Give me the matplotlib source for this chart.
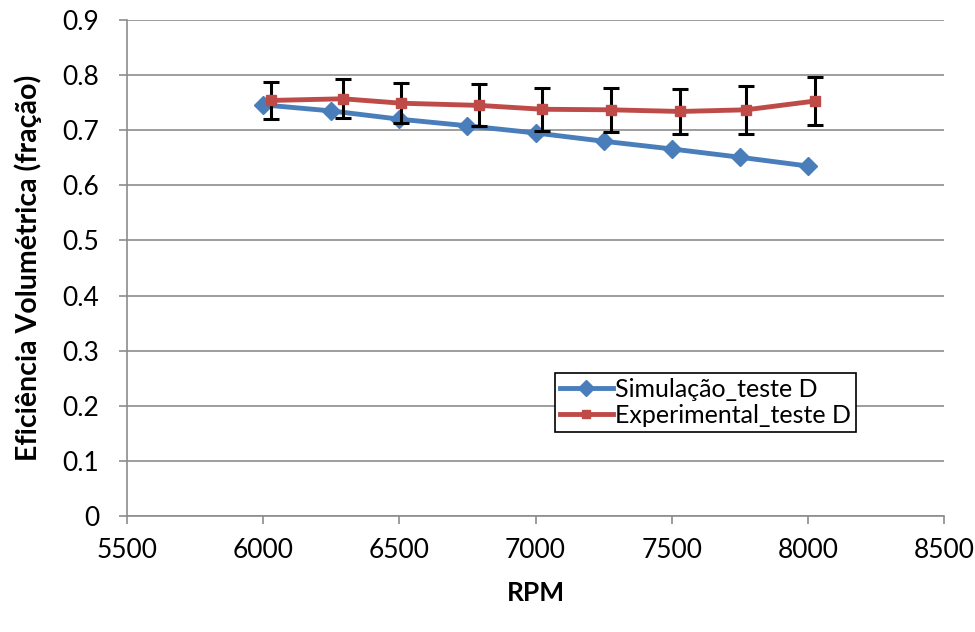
import matplotlib
matplotlib.use("Agg")
import matplotlib.pyplot as plt
from matplotlib.lines import Line2D

plt.rcParams['font.family'] = ['Lato', 'DejaVu Sans']

rpm_sim = [6000, 6250, 6500, 6750, 7000, 7250, 7500, 7750, 8000]
ev_sim = [0.746, 0.735, 0.720, 0.708, 0.695, 0.680, 0.666, 0.651, 0.635]

rpm_exp = [6029, 6293, 6506, 6793, 7024, 7277, 7531, 7773, 8027]
ev_exp = [0.754, 0.757, 0.749, 0.745, 0.738, 0.737, 0.734, 0.737, 0.753]
ev_err = [0.033, 0.035, 0.036, 0.038, 0.039, 0.040, 0.041, 0.044, 0.044]

blue = "#4a7ebb"
red = "#be4b48"
grey = "#8c8c8c"

fig = plt.figure(figsize=(9.75, 6.32), dpi=100)
ax = fig.add_axes([0.1303, 0.1835, 0.8379, 0.7849])

ax.plot(rpm_sim, ev_sim, color=blue, lw=3.5, marker="D", ms=9, zorder=3)
ax.errorbar(rpm_exp, ev_exp, yerr=ev_err, color=red, lw=3.5, marker="s", ms=7,
            ecolor="black", elinewidth=2.2, capsize=6, capthick=2.2, zorder=4)

ax.set_xlim(5500, 8500)
ax.set_ylim(0, 0.9)
ax.set_xticks(range(5500, 8501, 500))
ax.set_yticks([i / 10 for i in range(10)])
ax.set_yticklabels(["0"] + ["%.1f" % (i / 10) for i in range(1, 10)])

ax.grid(axis="y", color=grey, lw=1.2)
ax.set_axisbelow(True)
for s in ["top", "right"]:
    ax.spines[s].set_visible(False)
for s in ["left", "bottom"]:
    ax.spines[s].set_color(grey)
    ax.spines[s].set_linewidth(1.2)
ax.tick_params(axis="both", colors=grey, labelcolor="black", labelsize=19,
               length=6, width=1.2)
ax.tick_params(axis="x", pad=10)
ax.tick_params(axis="y", pad=14)

ax.set_xlabel("RPM", fontsize=19, fontweight="bold", labelpad=13)
ax.set_ylabel("Eficiência Volumétrica (fração)", fontsize=20.5, fontweight="bold", labelpad=15)

handles = [
    Line2D([], [], color=blue, lw=3.5, marker="D", ms=8),
    Line2D([], [], color=red, lw=3.5, marker="s", ms=6),
]
labels = ["Simulação_teste D", "Experimental_teste D"]
leg = ax.legend(handles, labels, loc="lower left", bbox_to_anchor=(0.524, 0.169),
                fontsize=18, frameon=True, fancybox=False, edgecolor="black",
                framealpha=1, handlelength=2.1, handletextpad=0.1, borderpad=0.2,
                labelspacing=0.12, borderaxespad=0)
leg.get_frame().set_linewidth(1.2)

fig.savefig("out.png", dpi=100)
